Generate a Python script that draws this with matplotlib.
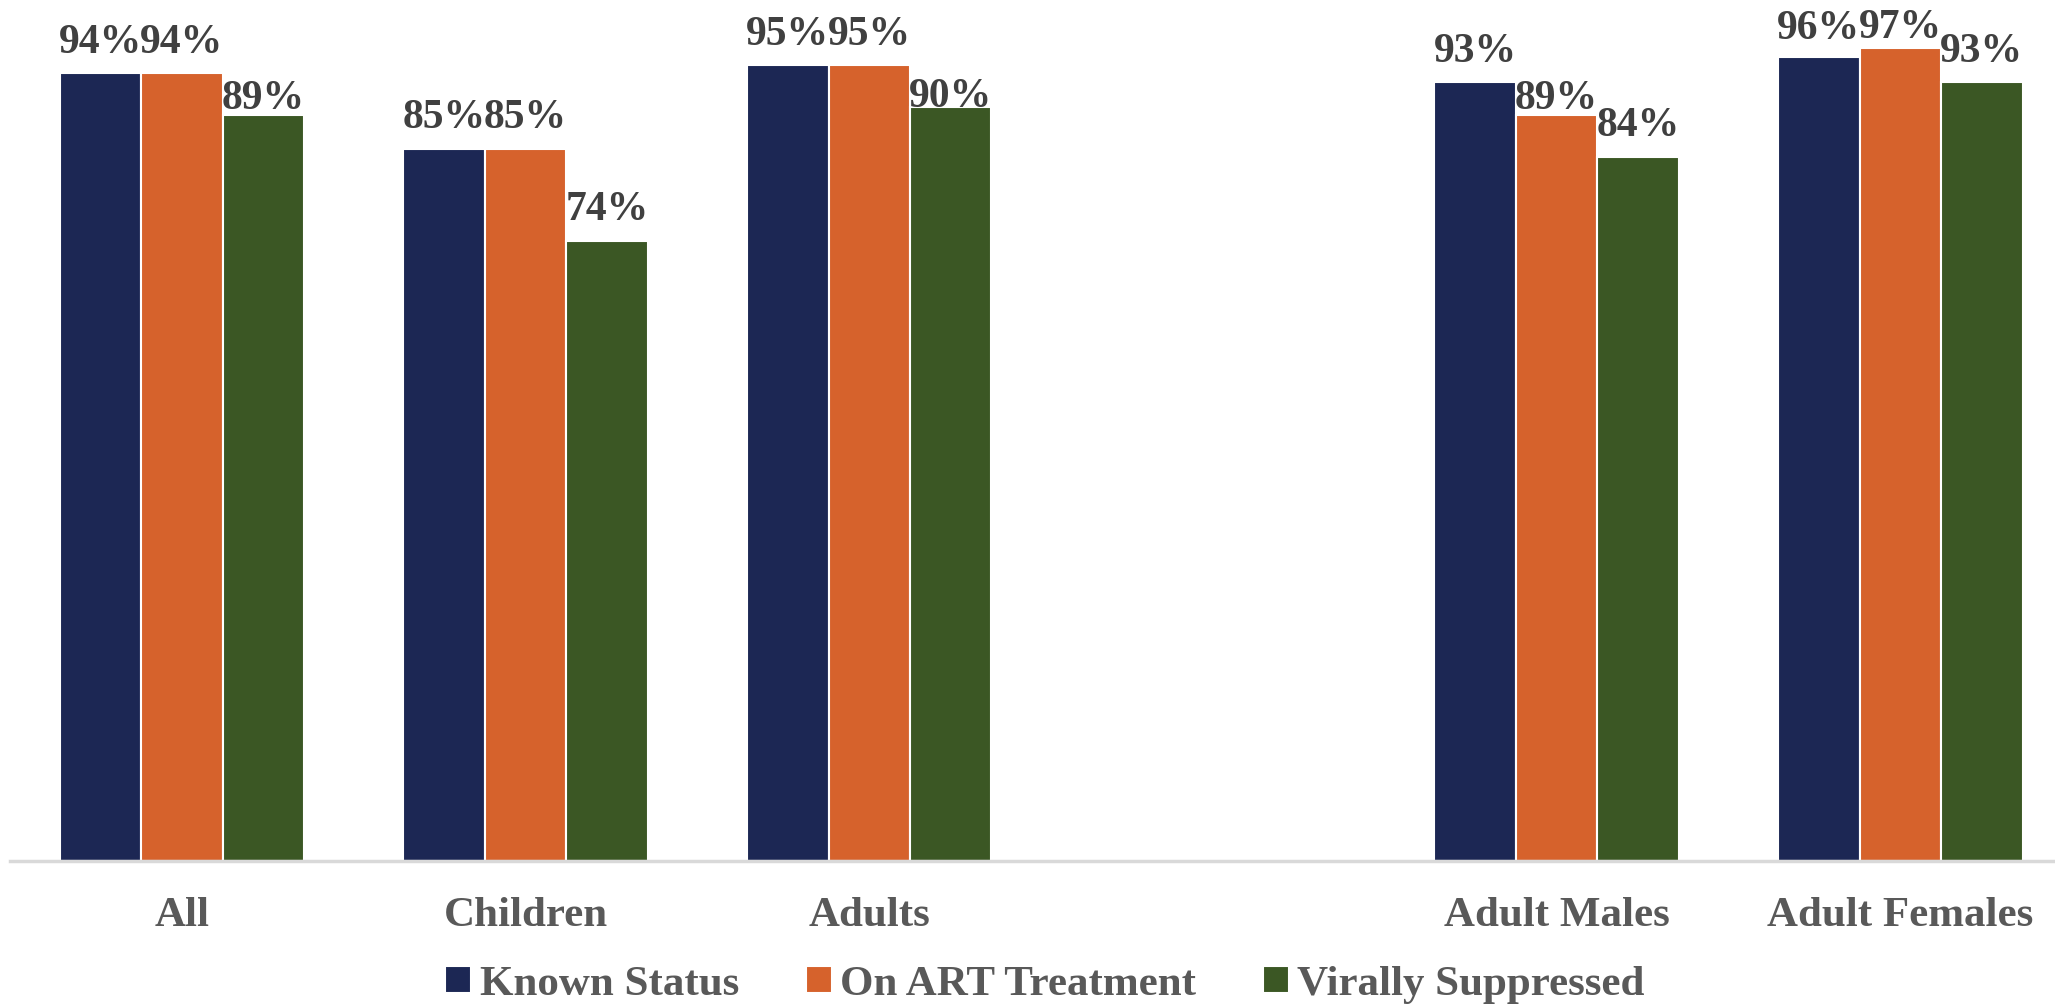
import matplotlib.pyplot as plt
import numpy as np

categories = ['All', 'Children', 'Adults', '', 'Adult Males', 'Adult Females']
series_names = ['Known Status', 'On ART Treatment', 'Virally Suppressed']
known_status = [94, 85, 95, None, 93, 96]
on_art = [94, 85, 95, None, 89, 97]
virally_suppressed = [89, 74, 90, None, 84, 93]

colors = ['#1c2754', '#d6622c', '#3b5724']
# gap between bar top and label baseline (pixels), nudged per bar like the original
label_gaps = [
    [20, 21, 20, 0, 20, 18],
    [20, 21, 20, 0, 6, 10],
    [6, 21, 0, 0, 21, 20],
]

W, H, DPI = 2055, 1007, 100
plt.rcParams['font.family'] = ['Liberation Serif', 'DejaVu Serif']
plt.rcParams['font.weight'] = 'bold'

fig = plt.figure(figsize=(W / DPI, H / DPI), dpi=DPI)
slot = 343.7
left_px = 10
ax = fig.add_axes([left_px / W, (H - 861) / H, (W - left_px) / W, (861 - 23) / H])

x = np.arange(len(categories))
bw = 0.237
all_series = [known_status, on_art, virally_suppressed]
for i, (name, vals) in enumerate(zip(series_names, all_series)):
    xs = [xi + (i - 1) * bw for xi, v in zip(x, vals) if v is not None]
    ys = [v / 100 for v in vals if v is not None]
    gaps = [g for g, v in zip(label_gaps[i], vals) if v is not None]
    bars = ax.bar(xs, ys, width=bw, color=colors[i], edgecolor='white',
                  linewidth=1.5, label=name, zorder=2)
    for b, v, g in zip(bars, ys, gaps):
        ax.annotate(f'{v:.0%}', (b.get_x() + b.get_width() / 2, v),
                    xytext=(0, g * 72 / DPI), textcoords='offset points',
                    ha='center', va='baseline', fontsize=30, color='#404040',
                    fontweight='bold', annotation_clip=False)

ax.set_xlim(-0.5, -0.5 + (W - left_px) / slot)
ax.set_ylim(0, 1.0)
ax.set_yticks([])
ax.set_xticks(x)
ax.set_xticklabels(categories, fontsize=31, color='#595959', fontweight='bold')
ax.tick_params(axis='x', length=0, pad=26)
for s in ['top', 'right', 'left']:
    ax.spines[s].set_visible(False)
ax.spines['bottom'].set_color('#d9d9d9')
ax.spines['bottom'].set_linewidth(2.5)

leg = fig.legend(loc='center', bbox_to_anchor=(1045 / W, 1 - 985 / H), ncol=3,
                 frameon=False, fontsize=31, handlelength=0.6, handleheight=0.6,
                 handletextpad=0.2, columnspacing=1.55)
for t in leg.get_texts():
    t.set_color('#595959')
    t.set_fontweight('bold')

fig.savefig('out.png', dpi=DPI)
